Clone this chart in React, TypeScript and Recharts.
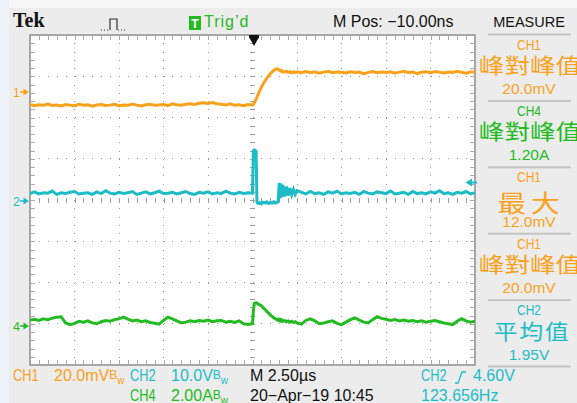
import React from "react"
import { Line, LineChart, XAxis, YAxis } from "recharts"

// sample times in µs, trigger at 0 (denser around the edge)
const sampleTimes = [
  -12.5, -12.25, -12, -11.75, -11.5, -11.25, -11, -10.75, -10.5, -10.25,
  -10, -9.75, -9.5, -9.25, -9, -8.75, -8.5, -8.25, -8, -7.75,
  -7.5, -7.25, -7, -6.75, -6.5, -6.25, -6, -5.75, -5.5, -5.25,
  -5, -4.75, -4.5, -4.25, -4, -3.75, -3.5, -3.25, -3, -2.75,
  -2.5, -2.25, -2, -1.75, -1.5, -1.25, -1, -0.75, -0.5, -0.25,
  0,
  0.05, 0.1, 0.2, 0.25, 0.3, 0.4, 0.5, 0.6, 0.7, 0.8,
  0.9, 1, 1.1, 1.2, 1.3, 1.4, 1.45, 1.5, 1.55, 1.6,
  1.65, 1.7, 1.8, 1.9, 2, 2.1, 2.2, 2.3, 2.4, 2.5,
  2.75, 3, 3.25, 3.5, 3.75, 4, 4.25, 4.5, 4.75, 5,
  5.25, 5.5, 5.75, 6, 6.25, 6.5, 6.75, 7, 7.25, 7.5,
  7.75, 8, 8.25, 8.5, 8.75, 9, 9.25, 9.5, 9.75, 10,
  10.25, 10.5, 10.75, 11, 11.25, 11.5, 11.75, 12, 12.25, 12.5,
]

// CH1, mV
const ch1Mv = [
  -6.2, -6.8, -6.3, -6.6, -6.0, -6.7, -6.4, -6.9, -6.2, -6.5,
  -6.8, -6.1, -6.6, -6.3, -7.0, -6.4, -6.2, -6.7, -6.5, -6.1,
  -6.8, -6.4, -6.6, -6.0, -6.5, -6.9, -6.3, -6.1, -6.6, -6.4,
  -6.2, -6.7, -5.9, -6.3, -6.6, -6.1, -5.8, -6.2, -5.6, -5.4,
  -5.7, -5.3, -5.8, -6.1, -6.4, -5.9, -6.6, -6.3, -6.8, -6.2,
  -6.4,
  -6.2, -5.5, -3.7, -2.7, -1.6, 0.4, 2.2, 3.8, 5.2, 6.5,
  7.7, 8.7, 9.6, 10.3, 10.9, 11.1, 10.8, 10.5, 10.2, 10.4,
  9.8, 10.0, 9.5, 9.9, 9.4, 9.7, 9.2, 9.6, 9.3, 9.7,
  9.2, 9.8, 9.3, 9.6, 9.0, 9.5, 9.9, 9.2, 9.6, 9.4,
  9.1, 9.7, 9.3, 9.5, 8.6, 9.4, 9.8, 9.2, 9.6, 9.3,
  9.7, 9.0, 9.5, 9.9, 9.3, 9.6, 8.8, 9.4, 9.7, 9.2,
  9.8, 9.5, 9.1, 9.6, 9.3, 9.9, 9.4, 9.0, 9.6, 9.5,
]

// CH2, V
const ch2V = [
  1.8, 2.2, 1.7, 2.0, 1.9, 2.4, 1.6, 2.0, 1.8, 2.1,
  2.3, 1.7, 1.9, 2.0, 1.6, 2.2, 1.8, 2.5, 1.9, 1.7,
  2.1, 1.8, 2.0, 2.3, 1.6, 1.9, 2.2, 1.7, 2.0, 2.4,
  1.8, 1.9, 2.1, 1.7, 2.0, 2.3, 1.8, 1.6, 2.1, 1.9,
  2.2, 1.7, 2.0, 1.8, 2.4, 1.9, 1.7, 2.1, 1.8, 2.0,
  1.9,
  12.2, 12.4, 12.1, -0.3, -0.6, -0.4, -0.7, -0.3, -0.5, -0.2,
  -0.6, -0.4, -0.5, -0.2, -0.5, -0.3, 0.2, 4.4, 0.6, 4.2,
  1.0, 3.9, 1.1, 3.5, 1.3, 3.1, 1.5, 2.8, 1.6, 2.5,
  2.1, 1.7, 2.3, 1.8, 2.0, 1.6, 2.2, 1.9, 2.4, 1.7,
  2.0, 1.8, 2.1, 1.6, 2.3, 1.9, 1.7, 2.2, 2.0, 1.8,
  2.4, 1.7, 1.9, 2.1, 1.6, 2.3, 1.8, 2.0, 1.7, 2.2,
  1.9, 2.5, 1.8, 2.0, 1.6, 2.1, 1.9, 2.3, 1.7, 2.0,
]

// CH4, A
const ch4A = [
  0.24, 0.28, 0.22, 0.3, 0.26, 0.33, 0.38, 0.4, 0.1, 0.02,
  0.08, 0.18, 0.14, 0.2, 0.1, 0.06, 0.16, 0.22, 0.18, 0.26,
  0.3, 0.38, 0.28, 0.2, 0.24, 0.16, 0.2, 0.12, 0.08, 0.04,
  0.22, 0.38, 0.3, 0.2, 0.1, 0.14, 0.2, 0.16, 0.22, 0.18,
  0.24, 0.16, 0.2, 0.22, 0.14, 0.18, 0.12, 0.2, 0.06, 0.02,
  0.06,
  0.7, 1.04, 1.08, 1.05, 1.02, 0.98, 0.93, 0.84, 0.76, 0.66,
  0.58, 0.48, 0.42, 0.34, 0.3, 0.24, 0.28, 0.22, 0.26, 0.2,
  0.24, 0.18, 0.22, 0.16, 0.2, 0.14, 0.18, 0.12, 0.16, 0.1,
  0.04, 0.22, 0.3, 0.2, 0.06, 0.1, 0.16, 0.2, 0.08, 0.02,
  0.14, 0.26, 0.34, 0.24, 0.14, 0.1, 0.26, 0.4, 0.32, 0.28,
  0.22, 0.26, 0.2, 0.24, 0.18, 0.22, 0.16, 0.2, 0.14, 0.18,
  0.22, 0.16, 0.1, 0.06, 0.02, 0.18, 0.3, 0.2, 0.14, 0.18,
]

// vertical settings: units per division, ground position (divisions from bottom)
const ch1PerDiv = 20
const ch1Pos = 6.625
const ch2PerDiv = 10
const ch2Pos = 3.976
const ch4PerDiv = 2
const ch4Pos = 0.97

// screen: 10 x 2.5µs horizontally, 8 divisions vertically
const T0 = -12.5
const T1 = 12.5
const DIVS = 8
const PLOT = { left: 30, top: 35, width: 445, height: 330 }

const ORANGE = "#f9a11b"
const CYAN = "#1cbcc6"
const GREEN = "#22bb22"

const measureChannels = ["CH1", "CH4", "CH1", "CH1", "CH2"]
const measureNames = ["峰對峰值", "峰對峰值", "最大", "峰對峰值", "平均值"]
const measureValues = ["20.0mV", "1.20A", "12.0mV", "20.0mV", "1.95V"]
const measureColors = [ORANGE, GREEN, ORANGE, ORANGE, CYAN]

const data = sampleTimes.map((t, i) => ({
  t,
  ch1: ch1Mv[i] / ch1PerDiv + ch1Pos,
  ch2: ch2V[i] / ch2PerDiv + ch2Pos,
  ch4: ch4A[i] / ch4PerDiv + ch4Pos,
}))

// graticule drawn behind the plot (10 x 8 divisions, 5 minor steps each)
const Graticule = () => {
  const { left, top, width, height } = PLOT
  const dx = width / 10
  const dy = height / DIVS
  const items: React.ReactNode[] = []
  const dot = (x: number, y: number, w: number, h: number, c: string, k: string) =>
    items.push(<rect key={k} x={Math.round(x)} y={Math.round(y)} width={w} height={h} fill={c} />)
  for (let i = 1; i < 10; i++) {
    const x = left + i * dx
    for (let k = 0; k <= DIVS * 5; k++) {
      const y = top + (k * dy) / 5
      if (i === 5) dot(x - 2.5, y, 5, 1, "#9c9c9c", `c${i}-${k}`)
      else dot(x - 0.5, y, 1, 1, "#979797", `v${i}-${k}`)
    }
  }
  for (let j = 1; j < DIVS; j++) {
    const y = top + j * dy
    for (let k = 0; k <= 50; k++) {
      const x = left + (k * dx) / 5
      if (j === DIVS / 2) dot(x, y - 2.5, 1, 5, "#9c9c9c", `m${j}-${k}`)
      else dot(x, y - 0.5, 1, 1, "#979797", `h${j}-${k}`)
    }
  }
  for (let k = 1; k < DIVS * 5; k++) {
    const y = top + (k * dy) / 5
    dot(left + 1, y, 4, 1, "#ababab", `l${k}`)
    dot(left + width - 5, y, 4, 1, "#ababab", `r${k}`)
  }
  for (let k = 1; k < 50; k++) {
    const x = left + (k * dx) / 5
    dot(x, top + 1, 1, 4, "#ababab", `t${k}`)
    dot(x, top + height - 5, 1, 4, "#ababab", `b${k}`)
  }
  return (
    <svg width={577} height={403} style={{ position: "absolute", left: 0, top: 0 }}>
      <rect x={left} y={top} width={width} height={height} fill="#ffffff" />
      {items}
      <rect x={left} y={top} width={width} height={height} fill="none" stroke="#a6a6a6" strokeWidth={2} />
    </svg>
  )
}

const Txt = ({ x, y, color = "#111", size = 16, sx = 1, mid = false, style = {}, children }: any) => (
  <div
    style={{
      position: "absolute",
      left: x,
      top: y,
      color,
      fontSize: size,
      lineHeight: 1,
      whiteSpace: "nowrap",
      transform: `translate(${mid ? "-50%" : "0"},-50%) scaleX(${sx})`,
      transformOrigin: mid ? "center" : "left center",
      ...style,
    }}
  >
    {children}
  </div>
)

const Bw = () => (
  <>
    <span style={{ fontSize: 12, position: "relative", top: -2 }}>B</span>
    <span style={{ fontSize: 10, position: "relative", top: 3 }}>w</span>
  </>
)

const cjk = { fontFamily: '"Noto Sans CJK TC", "Noto Sans CJK SC", sans-serif' }

export default function App() {
  return (
    <div
      style={{
        position: "relative",
        width: 577,
        height: 403,
        overflow: "hidden",
        background: "#ececec",
        fontFamily: '"Liberation Sans", Arial, sans-serif',
      }}
    >
      <style>{"body{margin:0}"}</style>
      <div style={{ position: "absolute", left: 0, top: 0, width: 577, height: 8, background: "#f6f6f6" }} />
      <div style={{ position: "absolute", left: 0, top: 0, width: 9, height: 403, background: "#edf1f8" }} />
      <Graticule />

      <div style={{ position: "absolute", left: 0, top: 0 }}>
        <LineChart
          width={577}
          height={403}
          data={data}
          margin={{ top: PLOT.top, right: 577 - PLOT.left - PLOT.width, bottom: 403 - PLOT.top - PLOT.height, left: PLOT.left }}
        >
          <XAxis dataKey="t" type="number" domain={[T0, T1]} hide allowDataOverflow />
          <YAxis yAxisId="div" type="number" domain={[0, DIVS]} hide allowDataOverflow />
          <Line type="linear" dataKey="ch1" yAxisId="div" stroke={ORANGE} strokeWidth={3} dot={false} isAnimationActive={false} />
          <Line type="linear" dataKey="ch2" yAxisId="div" stroke={CYAN} strokeWidth={3} dot={false} isAnimationActive={false} />
          <Line type="linear" dataKey="ch4" yAxisId="div" stroke={GREEN} strokeWidth={3} dot={false} isAnimationActive={false} />
        </LineChart>
      </div>

      <svg width={577} height={403} style={{ position: "absolute", left: 0, top: 0, pointerEvents: "none" }}>
        {/* acquisition icon */}
        <path d="M101 30 H109" stroke="#333" strokeWidth={1} strokeDasharray="1 2" />
        <path d="M110 30 V19 H117 V30" stroke="#333" strokeWidth={1.2} fill="none" />
        <path d="M118 30 H127" stroke="#333" strokeWidth={1} strokeDasharray="1 2" />
        {/* trig'd box */}
        <rect x={189} y={16} width={12} height={14} fill={GREEN} />
        <text x={195} y={27.5} fontSize={12} fontWeight="bold" fill="#fff" textAnchor="middle" fontFamily="Liberation Sans, Arial">T</text>
        {/* trigger position */}
        <rect x={249} y={35} width={10} height={3} fill="#111" />
        <path d="M249.5 38 H258.5 L254 46 Z" fill="#111" />
        {/* trigger level */}
        <path d="M465.5 182.5 L472 178.5 V186.5 Z" fill={CYAN} />
        <rect x={472} y={181.5} width={5} height={2} fill={CYAN} />
        {/* channel ground markers */}
        {[
          { n: "1", y: 92, c: ORANGE },
          { n: "2", y: 201, c: CYAN },
          { n: "4", y: 326, c: GREEN },
        ].map((m) => (
          <g key={m.n}>
            <text x={13} y={m.y + 4.5} fontSize={12.5} fill={m.c} fontFamily="Liberation Sans, Arial">{m.n}</text>
            <path d={`M20 ${m.y} H24`} stroke={m.c} strokeWidth={1.5} />
            <path d={`M23.5 ${m.y - 3.5} L29 ${m.y} L23.5 ${m.y + 3.5} Z`} fill={m.c} />
          </g>
        ))}
        {/* measure separators */}
        {[0, 1, 2, 3, 4, 5].map((i) => (
          <rect key={i} x={488} y={33.5 + 66.4 * i} width={83} height={2} fill="#c4c4c4" />
        ))}
        {/* rising edge glyph */}
        <path d="M455 383 H458 L462 372 H466" stroke={CYAN} strokeWidth={1.3} fill="none" />
      </svg>

      {/* top bar */}
      <Txt x={13} y={20} size={20} style={{ fontFamily: '"Liberation Serif", serif', fontWeight: "bold" }}>Tek</Txt>
      <Txt x={204} y={22} color={GREEN} size={16} style={{ letterSpacing: 1 }}>Trig’d</Txt>
      <Txt x={333} y={22} size={16}>M Pos: −10.00ns</Txt>
      <Txt x={529} y={22} size={14.5} mid>MEASURE</Txt>

      {/* measurement panel */}
      {measureNames.map((name, i) => {
        const y0 = 34 + 66.4 * i
        const c = measureColors[i]
        const big =
          name === "最大"
            ? { size: 24, sx: 1.2, ls: 4, x: 531, dy: 35 }
            : name === "平均值"
            ? { size: 21, sx: 1.14, ls: 1.3, x: 532, dy: 30 }
            : { size: 21, sx: 1.22, ls: 0, x: 530, dy: 29.5 }
        return (
          <React.Fragment key={i}>
            <Txt x={529} y={y0 + 9.5} color={c} size={15} sx={0.8} mid>{measureChannels[i]}</Txt>
            <Txt x={big.x} y={y0 + big.dy} color={c} size={big.size} sx={big.sx} mid style={{ ...cjk, letterSpacing: big.ls }}>
              {name}
            </Txt>
            <Txt x={529} y={y0 + 55} color={c} size={15.5} mid>{measureValues[i]}</Txt>
          </React.Fragment>
        )
      })}

      {/* bottom status */}
      <Txt x={13} y={376} color={ORANGE} sx={0.8}>CH1</Txt>
      <Txt x={54} y={376} color={ORANGE}>20.0mV<Bw /></Txt>
      <Txt x={130} y={376} color={CYAN} sx={0.8}>CH2</Txt>
      <Txt x={171} y={376} color={CYAN}>10.0V<Bw /></Txt>
      <Txt x={250} y={376}>M 2.50µs</Txt>
      <Txt x={421} y={376} color={CYAN} sx={0.8}>CH2</Txt>
      <Txt x={473} y={376} color={CYAN}>4.60V</Txt>

      <Txt x={130} y={396} color={GREEN} sx={0.8}>CH4</Txt>
      <Txt x={171} y={396} color={GREEN}>2.00A<Bw /></Txt>
      <Txt x={250} y={396}>20−Apr−19 10:45</Txt>
      <Txt x={421} y={396} color={CYAN}>123.656Hz</Txt>
    </div>
  )
}
